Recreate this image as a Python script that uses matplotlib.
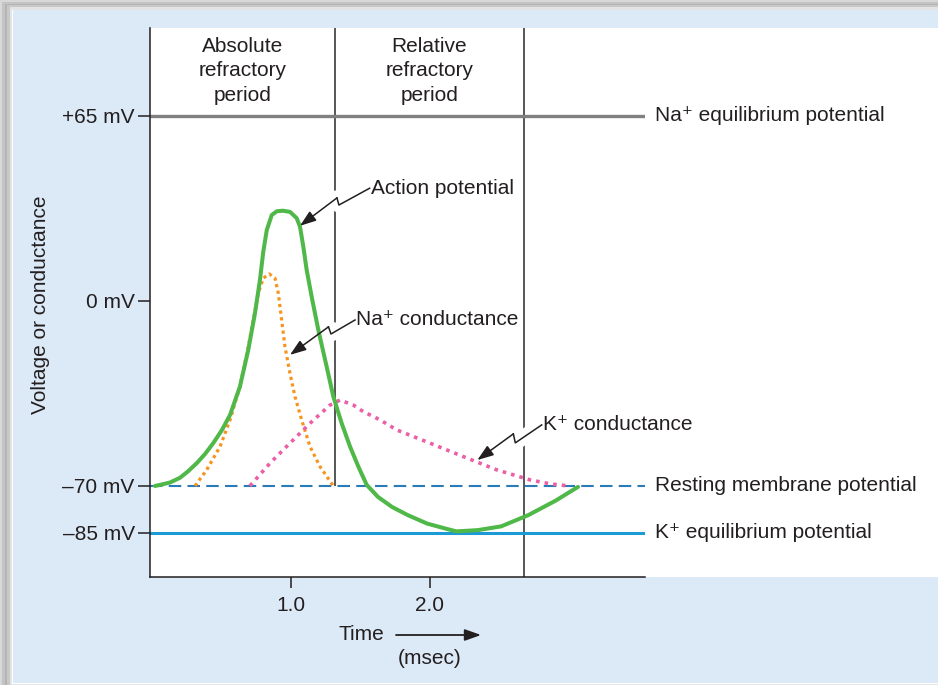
import numpy as np
import matplotlib
matplotlib.use("Agg")
import matplotlib.pyplot as plt
from matplotlib.patches import Rectangle

plt.rcParams['font.family'] = ['Liberation Sans', 'DejaVu Sans']
plt.rcParams['font.size'] = 15

# ---- data (time in msec, values in mV-like units) ----
ap_t = [0.022, 0.058, 0.130, 0.202, 0.259, 0.322, 0.382, 0.441, 0.504, 0.562,
        0.633, 0.693, 0.741, 0.777, 0.801, 0.826, 0.862, 0.898, 0.941, 0.993,
        1.041, 1.065, 1.089, 1.113, 1.149, 1.197, 1.257, 1.305, 1.365, 1.425,
        1.485, 1.545, 1.626, 1.727, 1.840, 1.979, 2.120, 2.190, 2.344, 2.512,
        2.708, 2.904, 3.065]
ap_v = [-70, -69.6, -68.7, -66.9, -64.5, -61.4, -57.9, -53.8, -48.8, -43.1,
        -32.4, -18.5, -4.7, 7.4, 17.3, 24.9, 30.2, 31.5, 31.7, 31.3,
        29.1, 26.1, 19.1, 10.9, 1.5, -11.0, -24.9, -36.2, -46.3, -55.1,
        -62.7, -69.6, -73.5, -76.7, -79.3, -82.0, -83.7, -84.5, -84.1, -82.9,
        -79.3, -74.7, -70.3]

na_t = [0.310, 0.394, 0.490, 0.562, 0.633, 0.693, 0.729, 0.765, 0.801, 0.844,
        0.885, 0.909, 0.933, 0.957, 0.993, 1.029, 1.077, 1.137, 1.209, 1.305]
na_g = [-70, -63.9, -55.1, -45.0, -32.4, -17.3, -7.2, 2.7, 8.0, 9.5,
        8.0, 2.7, -7.2, -17.3, -27.4, -36.2, -45.0, -55.1, -62.7, -70]

k_t = [0.705, 0.849, 0.993, 1.137, 1.281, 1.353, 1.449, 1.521, 1.641, 1.761,
       1.880, 2.000, 2.240, 2.480, 2.720, 2.864, 3.000]
k_g = [-70, -61.4, -53.8, -46.3, -39.4, -37.5, -39.4, -41.9, -45.0, -48.8,
       -51.3, -53.8, -58.9, -63.9, -67.7, -69.2, -70]

na_eq, rest, k_eq = 65, -70, -85
ytick_vals = [-85, -70, 0, 65]
ytick_labels = ['\u201385 mV', '\u201370 mV', '0 mV', '+65 mV']
xtick_vals = [1.0, 2.0]
xtick_labels = ['1.0', '2.0']
abs_end, rel_end = 1.317, 2.677

# annotation bolts: text anchor, jag points, arrow tip
ap_bolt = [(1.566, 39.6), (1.345, 33.7), (1.331, 36.2), (1.065, 26.4)]
na_bolt = [(1.461, -7.2), (1.288, -12.5), (1.270, -9.8), (0.993, -20.4)]
k_bolt = [(2.804, -46.9), (2.614, -53.7), (2.600, -50.3), (2.341, -60.2)]

# schematic (non-linear) voltage axis
mv_pts = [-200, -85, -70, 0, 65, 200]
pos_pts = [-316.3, 44, 91, 276, 461, 845.2]


def fwd(v):
    return np.interp(v, mv_pts, pos_pts)


def inv(p):
    return np.interp(p, pos_pts, mv_pts)


W, H = 938, 685
fig = plt.figure(figsize=(W / 100, H / 100), dpi=100)
fig.patch.set_facecolor('white')

# frame: grey shadow, blue panel, white plot area
for i, g in enumerate(['#d8d8d8', '#c4c4c4', '#b4b4b4', '#c8c8c8', '#e4e4e4']):
    fig.add_artist(Rectangle((i * 2.4 / W, 0), 1, 1 - i * 1.8 / H,
                             transform=fig.transFigure, color=g, lw=0, zorder=-10))
fig.add_artist(Rectangle((12 / W, 1 / H), 1, 1 - 11 / H, transform=fig.transFigure,
                         color='white', lw=0, zorder=-9))
fig.add_artist(Rectangle((13 / W, 2 / H), 925 / W, 673 / H, transform=fig.transFigure,
                         color='#dce9f6', lw=0, zorder=-8))
fig.add_artist(Rectangle((150 / W, 108 / H), 788 / W, 549 / H, transform=fig.transFigure,
                         color='white', lw=0, zorder=-7))

ax = fig.add_axes([150 / W, 108 / H, 495 / W, 549 / H])
ax.set_facecolor('none')
ax.set_yscale('function', functions=(fwd, inv))
ax.set_xlim(-0.014, 3.547)
ax.set_ylim(-99.06, 95.9)
for s in ['top', 'right']:
    ax.spines[s].set_visible(False)
for s in ['left', 'bottom']:
    ax.spines[s].set_linewidth(1.1)
    ax.spines[s].set_color('#231f20')

ax.set_yticks(ytick_vals)
ax.set_yticklabels(ytick_labels)
ax.set_xticks(xtick_vals)
ax.set_xticklabels(xtick_labels)
ax.yaxis.set_minor_locator(matplotlib.ticker.NullLocator())
ax.tick_params(axis='y', length=8.5, width=1.1, pad=2.5, colors='#231f20')
ax.tick_params(axis='x', length=8, width=1.1, pad=6, colors='#231f20')

# period boundaries
ax.vlines(abs_end, rest, 95.9, color='#3a3a3a', lw=1.2, zorder=1)
ax.vlines(rel_end, -99.06, 95.9, color='#3a3a3a', lw=1.2, zorder=1)

# reference potentials
ax.axhline(na_eq, color='#808080', lw=2.4, zorder=2)
ax.axhline(k_eq, color='#1c9ad6', lw=2.2, zorder=2)
ax.axhline(rest, color='#2b7bb9', lw=1.5, dashes=(6, 3), zorder=2)

# white masks where the bolts break the vertical lines
for b in [ap_bolt, na_bolt, k_bolt]:
    bx = [p[0] for p in b]
    by = [p[1] for p in b]
    mx = bx[:3] + [bx[2] + 0.3 * (bx[3] - bx[2])]
    my = by[:3] + [by[2] + 0.3 * (by[3] - by[2])]
    ax.plot(mx, my, color='white', lw=11, solid_capstyle='butt', zorder=3)

# curves
ax.plot(na_t, na_g, color='#f7941d', lw=2.3, dashes=(1, 1.1),
        dash_capstyle='butt', zorder=4)
ax.plot(k_t, k_g, color='#ec5fa7', lw=2.6, dashes=(1, 1.4),
        dash_capstyle='butt', zorder=4)
ax.plot(ap_t, ap_v, color='#4fb848', lw=2.9, solid_joinstyle='round',
        solid_capstyle='round', zorder=5)

# bolts with arrowheads
for b in [ap_bolt, na_bolt, k_bolt]:
    ax.plot([p[0] for p in b[:3]], [p[1] for p in b[:3]], color='#231f20', lw=1.1, zorder=6)
    ax.annotate('', xy=b[3], xytext=b[2],
                arrowprops=dict(arrowstyle='-|>,head_length=0.7,head_width=0.25',
                                mutation_scale=14, lw=1.1, color='#231f20',
                                shrinkA=0, shrinkB=0), zorder=6)

txt = dict(color='#231f20', zorder=7)
ax.text(ap_bolt[0][0] + 0.01, ap_bolt[0][1], 'Action potential', ha='left', va='center', **txt)
ax.text(na_bolt[0][0] + 0.01, na_bolt[0][1], 'Na\u207a conductance', ha='left', va='center', **txt)
ax.text(k_bolt[0][0] + 0.01, k_bolt[0][1], 'K\u207a conductance', ha='left', va='center', **txt)

ax.text(abs_end / 2 - 0.004, 80.8, 'Absolute\nrefractory\nperiod', ha='center', va='center',
        linespacing=1.38, **txt)
ax.text((abs_end + rel_end) / 2, 80.8, 'Relative\nrefractory\nperiod', ha='center', va='center',
        linespacing=1.38, **txt)

lx = 3.619
ax.text(lx, na_eq, 'Na\u207a equilibrium potential', ha='left', va='center', clip_on=False, **txt)
ax.text(lx, rest, 'Resting membrane potential', ha='left', va='center', clip_on=False, **txt)
ax.text(lx, k_eq, 'K\u207a equilibrium potential', ha='left', va='center', clip_on=False, **txt)

fig.text(40 / W, 1 - 305 / H, 'Voltage or conductance', rotation=90,
         ha='center', va='center', color='#231f20')
fig.text(361 / W, 1 - 634 / H, 'Time', ha='center', va='center', color='#231f20')
fig.text(430 / W, 1 - 659 / H, '(msec)', ha='center', va='center', color='#231f20')
ax.annotate('', xy=(481, H - 635), xytext=(396, H - 635), xycoords='figure pixels',
            textcoords='figure pixels',
            arrowprops=dict(arrowstyle='-|>,head_length=0.7,head_width=0.25',
                            mutation_scale=14, lw=1.3, color='#231f20',
                            shrinkA=0, shrinkB=0), annotation_clip=False)

fig.savefig('out.png', dpi=100)
